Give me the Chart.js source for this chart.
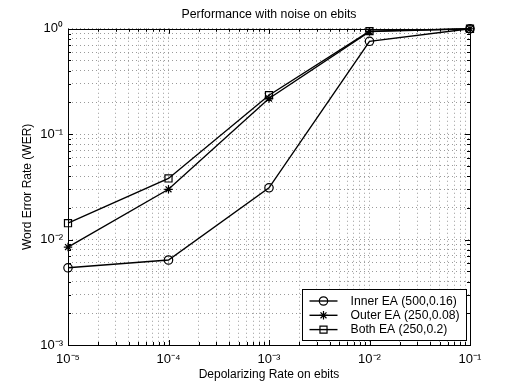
<!DOCTYPE html>
<html>
<head>
<meta charset="utf-8">
<script src="https://cdn.jsdelivr.net/npm/chart.js@4.4.1/dist/chart.umd.min.js"></script>
<style>
  html, body { margin: 0; padding: 0; background: #fff; }
  #wrap { width: 518px; height: 388px; }
</style>
</head>
<body>
<div id="wrap"><canvas id="werChart"></canvas></div>
<script>
// values
const depolRates = [1e-5, 1e-4, 1e-3, 1e-2, 1e-1];
const innerWer = [0.0054, 0.0064, 0.031, 0.76, 1.0];
const outerWer = [0.0085, 0.030, 0.218, 0.94, 1.0];
const bothWer = [0.0143, 0.038, 0.234, 0.95, 1.0];
const seriesLabels = ["Inner EA (500,0.16)", "Outer EA (250,0.08)", "Both EA (250,0.2)"];
const seriesMarkers = ["circle", "star", "rect"];
const markerSizes = [4.2, 4.2, 5];
const xDecades = [-5, -4, -3, -2, -1];
const yDecades = [-3, -2, -1, 0];

const SUP = { "-": "\u207B", "0": "\u2070", "1": "\u00B9", "2": "\u00B2", "3": "\u00B3",
  "4": "\u2074", "5": "\u2075", "6": "\u2076", "7": "\u2077", "8": "\u2078", "9": "\u2079" };

function pow10Label(v) {
  const e = Math.log10(v);
  if (Math.abs(e - Math.round(e)) > 1e-6) return "";
  return "10" + String(Math.round(e)).split("").map(c => SUP[c]).join("");
}

// 1..9 x 10^d for every decade, plus the last power of ten
function logTicks(decades) {
  const vals = [];
  for (let i = 0; i < decades.length - 1; i++) {
    for (let k = 1; k <= 9; k++) vals.push(k * Math.pow(10, decades[i]));
  }
  vals.push(Math.pow(10, decades[decades.length - 1]));
  return vals;
}

function toPoints(ys) {
  return depolRates.map((x, i) => ({ x: x, y: ys[i] }));
}

// box round the plot plus matlab style inward tick marks
const frame = {
  id: "frame",
  beforeDatasetsDraw(chart) {
    const { ctx, chartArea: a, scales } = chart;
    ctx.save();
    ctx.strokeStyle = "#000";
    ctx.lineWidth = 1;
    ctx.beginPath();
    scales.x.ticks.forEach(t => {
      const px = Math.round(scales.x.getPixelForValue(t.value)) + 0.5;
      const len = pow10Label(t.value) ? 5 : 3;
      ctx.moveTo(px, a.bottom); ctx.lineTo(px, a.bottom - len);
      ctx.moveTo(px, a.top); ctx.lineTo(px, a.top + len);
    });
    scales.y.ticks.forEach(t => {
      const py = Math.round(scales.y.getPixelForValue(t.value)) + 0.5;
      const len = pow10Label(t.value) ? 5 : 3;
      ctx.moveTo(a.left, py); ctx.lineTo(a.left + len, py);
      ctx.moveTo(a.right, py); ctx.lineTo(a.right - len, py);
    });
    ctx.stroke();
    ctx.strokeRect(Math.round(a.left) + 0.5, Math.round(a.top) + 0.5,
      Math.round(a.right - a.left), Math.round(a.bottom - a.top));
    ctx.restore();
  }
};

// legend sits inside the plot, bottom right, like the matlab one
const insideLegend = {
  id: "insideLegend",
  afterDraw(chart) {
    const { ctx, chartArea: a } = chart;
    const w = 164, h = 51;
    const x0 = Math.round(a.right - 4 - w) + 0.5;
    const y0 = Math.round(a.bottom - 5 - h) + 0.5;
    ctx.save();
    ctx.fillStyle = "#fff";
    ctx.fillRect(x0, y0, w, h);
    ctx.strokeStyle = "#000";
    ctx.lineWidth = 1;
    ctx.strokeRect(x0, y0, w, h);
    chart.data.datasets.forEach((ds, i) => {
      const y = y0 + 11.5 + i * 14.3;
      ctx.strokeStyle = "#000";
      ctx.lineWidth = 1.4;
      ctx.beginPath();
      ctx.moveTo(x0 + 7, y); ctx.lineTo(x0 + 35, y);
      ctx.stroke();
      ctx.fillStyle = "rgba(0,0,0,0)";
      ctx.lineWidth = 1.2;
      Chart.helpers.drawPoint(ctx, {
        pointStyle: ds.pointStyle, radius: ds.pointRadius, borderWidth: 1.2, rotation: 0
      }, x0 + 21, y);
      ctx.fillStyle = "#000";
      ctx.font = '12.2px "Liberation Sans", Arial, sans-serif';
      ctx.textBaseline = "middle";
      ctx.textAlign = "left";
      ctx.fillText(ds.label, x0 + 48, y + 0.5);
    });
    ctx.restore();
  }
};

Chart.defaults.font.family = '"Liberation Sans", Arial, Helvetica, sans-serif';
Chart.defaults.font.size = 12;
Chart.defaults.color = "#000";

const seriesValues = [innerWer, outerWer, bothWer];
const ctx = document.getElementById("werChart").getContext("2d");
const werChart = new Chart(ctx, {
  type: "line",
  data: {
    datasets: seriesValues.map((ys, i) => ({
      label: seriesLabels[i],
      data: toPoints(ys),
      borderColor: "#000",
      borderWidth: 1.4,
      pointStyle: seriesMarkers[i],
      pointRadius: markerSizes[i],
      pointBorderColor: "#000",
      pointBackgroundColor: "rgba(0,0,0,0)",
      pointBorderWidth: 1.2,
      fill: false,
      tension: 0,
      clip: false,
    })),
  },
  options: {
    responsive: true,
    maintainAspectRatio: false,
    animation: false,
    layout: { padding: { left: 0, right: 48, top: 0, bottom: 0 } },
    plugins: {
      legend: { display: false },
      tooltip: { enabled: false },
      title: {
        display: true,
        text: "Performance with noise on ebits",
        fullSize: false,
        font: { size: 12.3, weight: "normal" },
        padding: { top: 7, bottom: 7 },
      },
    },
    scales: {
      x: {
        type: "logarithmic",
        min: Math.pow(10, xDecades[0]),
        max: Math.pow(10, xDecades[xDecades.length - 1]),
        afterBuildTicks: s => { s.ticks = logTicks(xDecades).map(v => ({ value: v })); },
        afterFit: s => { s.height = 43; },
        ticks: { autoSkip: false, maxRotation: 0, padding: 7, font: { size: 13 }, callback: v => pow10Label(v) },
        grid: { color: "#9a9a9a", lineWidth: 1, drawTicks: false },
        border: { display: false, dash: [1, 3] },
        title: { display: true, text: "Depolarizing Rate on ebits", padding: { top: 0, bottom: 6 } },
      },
      y: {
        type: "logarithmic",
        min: Math.pow(10, yDecades[0]),
        max: Math.pow(10, yDecades[yDecades.length - 1]),
        afterBuildTicks: s => { s.ticks = logTicks(yDecades).map(v => ({ value: v })); },
        afterFit: s => { s.width = 68; },
        ticks: { autoSkip: false, padding: 5, font: { size: 13 }, callback: v => pow10Label(v) },
        grid: { color: "#9a9a9a", lineWidth: 1, drawTicks: false },
        border: { display: false, dash: [1, 3] },
        title: { display: true, text: "Word Error Rate (WER)", padding: { top: 20, bottom: 0 } },
      },
    },
  },
  plugins: [frame, insideLegend],
});
</script>
</body>
</html>
